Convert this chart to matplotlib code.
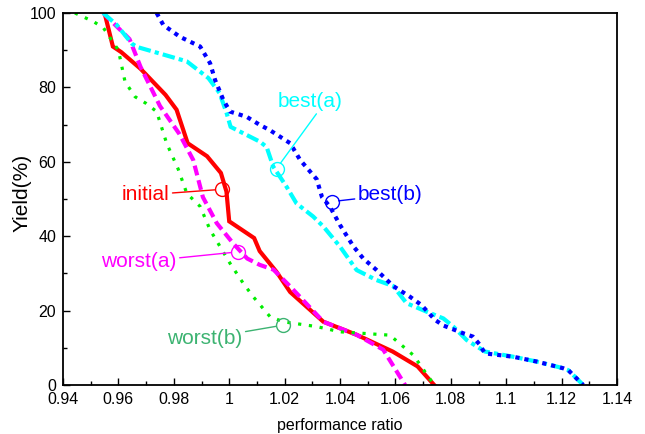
import numpy as np
import matplotlib
matplotlib.use("Agg")
import matplotlib.pyplot as plt
from matplotlib.ticker import MultipleLocator

plt.rcParams['font.family'] = ['Liberation Sans', 'DejaVu Sans']

# yield curves (performance ratio, yield %)
red_x = [0.955, 0.958, 0.961, 0.968, 0.977, 0.981, 0.985, 0.992, 0.997, 0.999, 1.000,
         1.009, 1.011, 1.017, 1.022, 1.034, 1.046, 1.059, 1.068, 1.074]
red_y = [100, 91, 89.5, 85, 78, 74, 65, 61.5, 57, 52, 44,
         39.5, 36, 30.5, 25, 17, 13.5, 9, 5, 0]

mag_x = [0.9545, 0.964, 0.968, 0.975, 0.982, 0.987, 0.9905, 0.9955, 1.0015, 1.0065,
         1.011, 1.016, 1.022, 1.034, 1.046, 1.0556, 1.0635]
mag_y = [100, 93, 85.5, 75, 67.5, 60.5, 50.5, 43.5, 38, 34,
         32.3, 31, 26.5, 17, 13.5, 9.5, 0]

grn_x = [0.9443, 0.951, 0.9546, 0.960, 0.9624, 0.966, 0.970, 0.9738, 0.9774, 0.9816,
         0.9847, 0.9895, 0.9931, 1.0003, 1.0051, 1.0087, 1.0147, 1.0195, 1.0316, 1.040,
         1.058, 1.0665, 1.074]
grn_y = [100, 97.7, 96, 90, 81.5, 77.5, 75.7, 73.5, 65, 58,
         51.5, 48, 41.7, 32.7, 27.3, 23.7, 18.4, 17, 15.7, 14.3,
         13.4, 8, 0]

cyn_x = [0.9545, 0.9594, 0.9648, 0.9666, 0.975, 0.9847, 0.9925, 0.9965, 0.9991, 1.0005,
         1.0111, 1.0135, 1.0159, 1.0207, 1.0243, 1.0303, 1.034, 1.040, 1.046, 1.0532,
         1.0592, 1.064, 1.0713, 1.0773, 1.0809, 1.0857, 1.0923, 1.1025, 1.111, 1.1206,
         1.1224, 1.1278]
cyn_y = [100, 96.8, 91.8, 90.9, 89.1, 87, 82.5, 78.5, 73, 69.4,
         65.4, 64, 58.7, 53.3, 48.8, 45.3, 42.6, 37.2, 30.9, 28.2,
         26.6, 22, 19.7, 17.9, 15.7, 12.1, 9, 7.6, 6.3, 4.5,
         4, 0]

blu_x = [0.9738, 0.9762, 0.9822, 0.9895, 0.9931, 0.9949, 0.9979, 1.0003, 1.0063, 1.0111,
         1.0147, 1.022, 1.0256, 1.0316, 1.0335, 1.0364, 1.040, 1.0448, 1.0484, 1.0532,
         1.0592, 1.0653, 1.0694, 1.0743, 1.0773, 1.0845, 1.088, 1.0905, 1.0923, 1.1025,
         1.111, 1.1206, 1.1224, 1.1278]
blu_y = [100, 96.8, 93.6, 91, 86.5, 82, 76.6, 73.5, 72.1, 69.9,
         68.5, 65, 60.5, 55.3, 50.5, 47.9, 43, 37.3, 34, 30.9,
         26.6, 23.7, 21.5, 17.5, 16, 13.9, 13, 10.8, 8.5, 7.6,
         6.3, 4.5, 4, 0]

# labels: name, colour, text position, circled point
labels = ['initial', 'worst(a)', 'worst(b)', 'best(a)', 'best(b)']
label_colors = ['#ff0000', '#ff00ff', '#3cb371', '#00ffff', '#0000ff']
label_xy = [(0.9699, 51.1), (0.9675, 33.1), (0.9913, 12.5), (1.0292, 76.2), (1.058, 51.1)]
point_xy = [(0.9973, 52.6), (1.0033, 35.8), (1.0195, 16.1), (1.0171, 58.2), (1.0370, 49.3)]
rel_pos = [(0.5, 0.5), (0.5, 0.5), (0.5, 0.5), (0.65, 0.1), (0.5, 0.5)]

fig = plt.figure(figsize=(6.45, 4.34), dpi=100)
ax = fig.add_axes([0.0977, 0.1129, 0.8589, 0.8571])

ax.plot(red_x, red_y, color='#ff0000', lw=3, solid_joinstyle='miter')
ax.plot(mag_x, mag_y, color='#ff00ff', lw=3, linestyle=(0, (2.4, 1.2)))
ax.plot(grn_x, grn_y, color='#00ee00', lw=2.3, linestyle=(0, (1, 2.4)))
ax.plot(cyn_x, cyn_y, color='#00ffff', lw=3, linestyle=(0, (3, 1, 1, 1)))
ax.plot(blu_x, blu_y, color='#0000ff', lw=3, linestyle=(0, (1, 1.2)))

for name, c, txy, pxy, rp in zip(labels, label_colors, label_xy, point_xy, rel_pos):
    ax.plot(pxy[0], pxy[1], 'o', mfc='none', mec=c, ms=10, mew=1)
    ax.annotate(name, xy=pxy, xytext=txy, color=c, fontsize=15,
                ha='center', va='center',
                arrowprops=dict(arrowstyle='-', color=c, lw=1,
                                shrinkA=0, shrinkB=5, relpos=rp))

ax.set_xlim(0.94, 1.14)
ax.set_ylim(0, 100)
ax.xaxis.set_major_locator(MultipleLocator(0.02))
ax.xaxis.set_minor_locator(MultipleLocator(0.01))
ax.yaxis.set_major_locator(MultipleLocator(20))
ax.yaxis.set_minor_locator(MultipleLocator(10))
ax.set_xticks(np.arange(0.94, 1.141, 0.02))
ax.set_xticklabels(['0.94', '0.96', '0.98', '1', '1.02', '1.04', '1.06', '1.08',
                    '1.1', '1.12', '1.14'])
ax.tick_params(which='both', direction='in', labelsize=11.5, width=1)
ax.tick_params(which='major', length=5, pad=5)
ax.tick_params(which='minor', length=3)
for s in ax.spines.values():
    s.set_linewidth(1.3)

ax.set_xlabel('performance ratio', fontsize=11.5)
ax.xaxis.set_label_coords(0.5, -0.088)
ax.set_ylabel('Yield(%)', fontsize=15)
ax.yaxis.set_label_coords(-0.056, 0.517)

fig.savefig('out.png', dpi=100)
